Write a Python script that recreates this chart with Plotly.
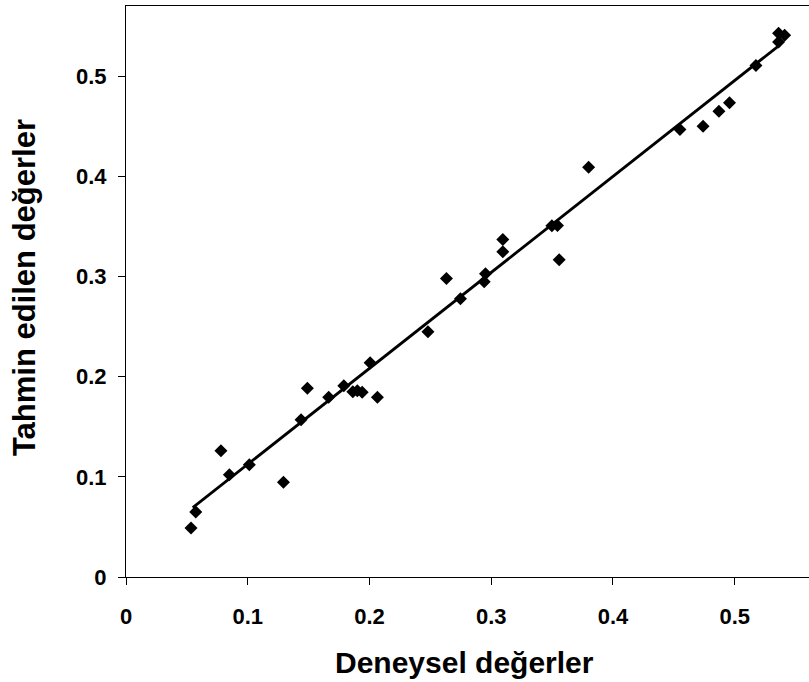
import plotly.graph_objects as go

# Experimental (x) vs predicted (y) values
x_exp = [0.0534, 0.0573, 0.078, 0.0849, 0.1013, 0.1293, 0.1438, 0.149, 0.1665, 0.1789,
         0.1863, 0.190, 0.194, 0.2005, 0.2065, 0.248, 0.2632, 0.2747, 0.2942, 0.2953,
         0.3095, 0.3095, 0.3498, 0.3544, 0.3558, 0.380, 0.455, 0.474, 0.487, 0.4957,
         0.5174, 0.536, 0.541, 0.536]
y_pred = [0.049, 0.065, 0.126, 0.102, 0.112, 0.0946, 0.157, 0.1885, 0.1795, 0.191,
          0.185, 0.186, 0.1845, 0.2138, 0.1795, 0.2448, 0.298, 0.2777, 0.2947, 0.3027,
          0.337, 0.3247, 0.3506, 0.351, 0.3167, 0.409, 0.4466, 0.450, 0.465, 0.4735,
          0.5105, 0.5428, 0.5408, 0.534]

# Linear trend line endpoints
trend_x = [0.0548, 0.5374]
trend_y = [0.0692, 0.5315]

tick_vals = [0, 0.1, 0.2, 0.3, 0.4, 0.5]
tick_text = ["0", "0.1", "0.2", "0.3", "0.4", "0.5"]

x_title = "Deneysel değerler"
y_title = "Tahmin edilen değerler"

FONT = "Liberation Sans, Arial, sans-serif"

fig = go.Figure()
fig.add_trace(go.Scatter(x=trend_x, y=trend_y, mode="lines",
                         line=dict(color="black", width=2.8), showlegend=False,
                         hoverinfo="skip"))
fig.add_trace(go.Scatter(x=x_exp, y=y_pred, mode="markers",
                         marker=dict(symbol="diamond", size=10, color="black",
                                     line=dict(width=0)),
                         showlegend=False))

axis_common = dict(
    showgrid=False, zeroline=False, showline=True, linecolor="black", linewidth=1,
    ticks="outside", ticklen=7, tickcolor="black", tickwidth=1,
    tickvals=tick_vals, ticktext=tick_text,
    tickfont=dict(family=FONT, size=22, color="black", weight="bold"),
)

fig.update_xaxes(range=[0, 0.561], mirror=True, ticklabelstandoff=13, **axis_common)
fig.update_yaxes(range=[0, 0.570], mirror=False, ticklabelstandoff=7, **axis_common)

fig.update_layout(
    width=809, height=682,
    margin=dict(l=126, r=0, t=6, b=105),
    paper_bgcolor="white", plot_bgcolor="white",
    annotations=[
        dict(text=x_title, xref="paper", yref="paper", x=0.495, y=-0.1506,
             xanchor="center", yanchor="middle", showarrow=False,
             font=dict(family=FONT, size=30, color="black", weight="bold")),
        dict(text=y_title, xref="paper", yref="paper", x=-0.1493, y=0.506,
             xanchor="center", yanchor="middle", showarrow=False, textangle=-90,
             font=dict(family=FONT, size=31, color="black", weight="bold")),
    ],
)

fig.write_html("out.html")
